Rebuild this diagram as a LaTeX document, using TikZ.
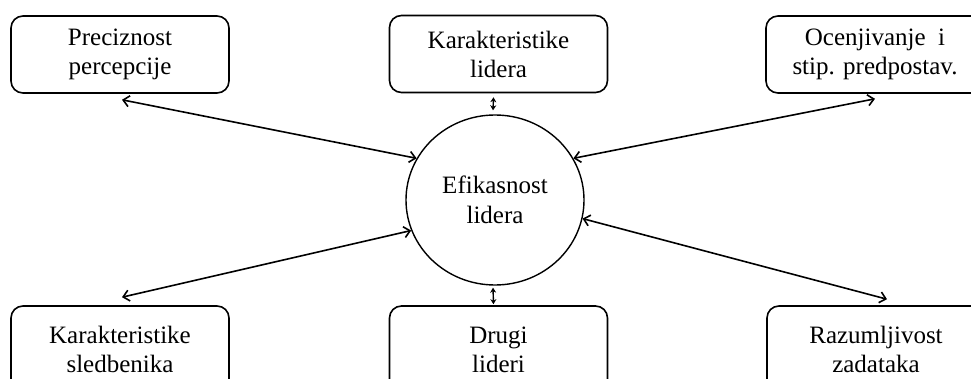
\documentclass[tikz,border=0pt]{standalone}
\usepackage{fontspec}
\setmainfont{Liberation Serif}
\usetikzlibrary{arrows.meta,shapes.geometric}

\begin{document}
\begin{tikzpicture}[x=1pt,y=1pt,
    box/.style={draw=black,line width=1.6pt,rounded corners=12pt,align=center,
      minimum width=218pt,inner sep=0pt,font=\fontsize{25}{29}\selectfont},
    hub/.style={draw=black,line width=1.4pt,ellipse,minimum width=178pt,minimum height=170pt,
      inner sep=0pt,align=center,font=\fontsize{25}{30}\selectfont},
    link/.style={line width=1.6pt,{Straight Barb[length=6pt,width=11pt]}-{Straight Barb[length=6pt,width=11pt]}},
    short/.style={line width=1.4pt,{Stealth[length=5pt,width=6pt]}-{Stealth[length=5pt,width=6pt]}}]

%% - Page frame
%% - --------------------------------------

\useasboundingbox (0,0) rectangle (971,378);

%% - Draw nodes
%% - --------------------------------------

%% - centre
\node[hub] (eff) at (495,178) {\raisebox{-4pt}{Efikasnost}\\\raisebox{-4pt}{lidera}};

%% - upper row
\node[box,minimum height=77pt] (precis) at (120,323.5) {Preciznost\\percepcije};
\node[box,minimum height=77pt] (karlid) at (498.5,324) {Karakteristike\\lidera};
\node[box,minimum height=77pt] (ocenj) at (875,323.5) {Ocenjivanje\ \ i\\stip. predpostav.};

%% - lower row
\node[box,minimum height=87pt] (karsled) at (120,28.5) {Karakteristike\\sledbenika};
\node[box,minimum height=87pt] (drugi) at (498.5,28.5) {Drugi\\lideri};
\node[box,minimum height=87pt] (razum) at (876,28.5) {Razumljivost\\zadataka};

%% - Draw arrows
%% - --------------------------------------

\draw[link] ([shift={(2,-6)}]precis.south) -- (eff.152);
\draw[link] (eff.28) -- ([yshift=-5]ocenj.south);
\draw[link] ([shift={(2,8)}]karsled.north) -- (eff.200);
\draw[link] (eff.348) -- ([shift={(11,6)}]razum.north);

%% - short ones above and below the centre
\draw[short] ([shift={(-2,4)}]eff.north) -- ([shift={(-5,-4)}]karlid.south);
\draw[short] ([shift={(-2,-2)}]eff.south) -- ([shift={(-5,1)}]drugi.north);

\end{tikzpicture}
\end{document}
